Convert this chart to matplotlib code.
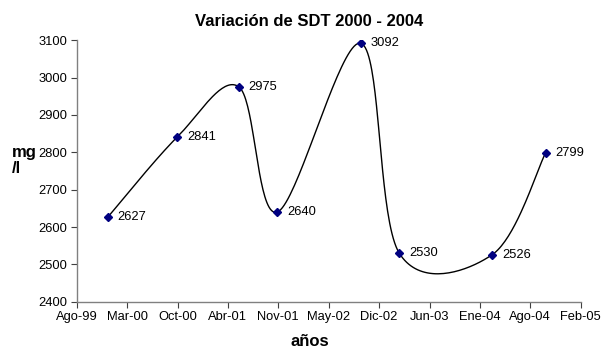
import numpy as np
import matplotlib
matplotlib.use("Agg")
import matplotlib.pyplot as plt
import matplotlib.dates as mdates
from datetime import date

plt.rcParams['font.family'] = ['Liberation Sans', 'DejaVu Sans']

# muestreos de SDT (mg/l)
fechas = [date(2000, 1, 1), date(2000, 10, 2), date(2001, 6, 4), date(2001, 11, 3),
          date(2002, 10, 1), date(2003, 3, 2), date(2004, 3, 5), date(2004, 10, 3)]
sdt = [2627, 2841, 2975, 2640, 3092, 2530, 2526, 2799]

# eje de fechas: inicio y paso de 200 dias
inicio = date(1999, 8, 30)
paso = 200
etiquetas_x = ['Ago-99', 'Mar-00', 'Oct-00', 'Abr-01', 'Nov-01', 'May-02',
               'Dic-02', 'Jun-03', 'Ene-04', 'Ago-04', 'Feb-05']
ticks_y = [2400, 2500, 2600, 2700, 2800, 2900, 3000, 3100]


def suavizar(x, y, n=40):
    # curva tipo Catmull-Rom (linea suavizada)
    x = np.asarray(x, float)
    y = np.asarray(y, float)
    px = np.concatenate([[x[0]], x, [x[-1]]])
    py = np.concatenate([[y[0]], y, [y[-1]]])
    xs, ys = [], []
    for i in range(1, len(px) - 2):
        p0 = np.array([px[i - 1], py[i - 1]])
        p1 = np.array([px[i], py[i]])
        p2 = np.array([px[i + 1], py[i + 1]])
        p3 = np.array([px[i + 2], py[i + 2]])
        c1 = p1 + (p2 - p0) / 6
        c2 = p2 - (p3 - p1) / 6
        t = np.linspace(0, 1, n)[:, None]
        b = ((1 - t) ** 3) * p1 + 3 * ((1 - t) ** 2) * t * c1 + 3 * (1 - t) * t ** 2 * c2 + t ** 3 * p2
        xs.append(b[:, 0])
        ys.append(b[:, 1])
    return np.concatenate(xs), np.concatenate(ys)


xnum = mdates.date2num(fechas)
cx, cy = suavizar(xnum, sdt)

W, H = 606, 349
fig = plt.figure(figsize=(W / 100, H / 100), dpi=100)
ax = fig.add_axes([76.7 / W, 1 - 301.7 / H, (580.7 - 76.7) / W, (301.7 - 40.3) / H])

ax.plot(cx, cy, color='black', lw=1.0, zorder=2)
ax.plot(xnum, sdt, linestyle='none', marker='D', markersize=4.5,
        color='#000080', zorder=3)
for xv, yv in zip(xnum, sdt):
    ax.annotate(str(yv), (xv, yv), xytext=(7, 0), textcoords='offset points',
                va='center', ha='left', fontsize=9.3)

x0 = mdates.date2num(inicio)
xt = [x0 + paso * i for i in range(len(etiquetas_x))]
ax.set_xlim(xt[0], xt[-1])
ax.set_xticks(xt)
ax.set_xticklabels(etiquetas_x, fontsize=9.3)
ax.set_ylim(2400, 3100)
ax.set_yticks(ticks_y)
ax.set_yticklabels([str(v) for v in ticks_y], fontsize=9.3)

for s in ['top', 'right']:
    ax.spines[s].set_visible(False)
for s in ['left', 'bottom']:
    ax.spines[s].set_color('#808080')
    ax.spines[s].set_linewidth(1.0)
ax.tick_params(direction='out', length=4, color='#404040', width=0.8, pad=2.5)

fig.text(309 / W, 1 - 21.5 / H, 'Variación de SDT 2000 - 2004', fontsize=12,
         fontweight='bold', ha='center', va='center')
fig.text(310 / W, 1 - 346.5 / H, 'años', fontsize=12, fontweight='bold',
         ha='center', va='baseline')
fig.text(11.7 / W, 1 - 156.7 / H, 'mg', fontsize=12, fontweight='bold',
         ha='left', va='baseline')
fig.text(11.7 / W, 1 - 173.3 / H, '/l', fontsize=12, fontweight='bold',
         ha='left', va='baseline')

fig.savefig('out.png', dpi=100)
